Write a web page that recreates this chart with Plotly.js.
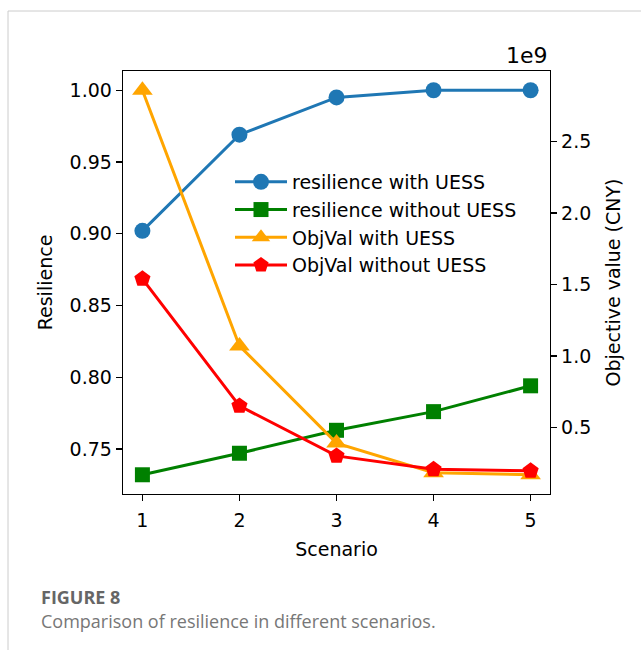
<!DOCTYPE html>
<html>
<head>
<meta charset="utf-8">
<script src="https://cdn.plot.ly/plotly-3.0.1.min.js"></script>
<style>
  html, body { margin: 0; padding: 0; background: #ffffff; }
  #chart { width: 641px; height: 650px; }
</style>
</head>
<body>
<div id="chart"></div>
<script>
// Scenario index on the x axis
const scenarios = [1, 2, 3, 4, 5];

// Resilience (left axis)
const resilienceWithUESS = [0.902, 0.969, 0.995, 1.000, 1.000];
const resilienceWithoutUESS = [0.732, 0.747, 0.763, 0.776, 0.794];

// Objective value in CNY (right axis, shown in units of 1e9)
const objValWithUESS = [2.86e9, 1.07e9, 0.39e9, 0.182e9, 0.168e9];
const objValWithoutUESS = [1.54e9, 0.65e9, 0.30e9, 0.206e9, 0.196e9];

const seriesNames = [
  'resilience with UESS',
  'resilience without UESS',
  'ObjVal with UESS',
  'ObjVal without UESS'
];

const objScale = 1e9;
const objWithScaled = objValWithUESS.map(v => v / objScale);
const objWithoutScaled = objValWithoutUESS.map(v => v / objScale);

// Autoscale with a 5% margin on each side of the data span
function padded(arrays) {
  const all = [].concat(...arrays);
  const lo = Math.min(...all), hi = Math.max(...all);
  const m = (hi - lo) * 0.05;
  return [lo - m, hi + m];
}

// Page geometry
const W = 641, H = 650;
const M = { l: 123, r: 91, t: 71, b: 156 };
const PW = W - M.l - M.r, PH = H - M.t - M.b;
const px2x = px => (px - M.l) / PW;
const px2y = py => (H - M.b - py) / PH;

const font = 'DejaVu Sans, sans-serif';
const fs = 19;
const capFont = 'Open Sans, Noto Sans, sans-serif';

const traces = [
  {
    x: scenarios, y: resilienceWithUESS, name: seriesNames[0],
    type: 'scatter', mode: 'lines+markers', yaxis: 'y', legendgroup: 'a',
    line: { color: '#1f77b4', width: 3 },
    marker: { symbol: 'circle', size: 16, color: '#1f77b4' }
  },
  {
    x: scenarios, y: resilienceWithoutUESS, name: seriesNames[1],
    type: 'scatter', mode: 'lines+markers', yaxis: 'y', legendgroup: 'b',
    line: { color: '#008000', width: 3 },
    marker: { symbol: 'square', size: 15, color: '#008000' }
  },
  {
    x: scenarios, y: objWithScaled, name: seriesNames[2],
    type: 'scatter', mode: 'lines+markers', yaxis: 'y2', legendgroup: 'c',
    line: { color: '#ffa500', width: 3 },
    marker: { symbol: 'triangle-up', size: 18, color: '#ffa500' }
  },
  {
    x: scenarios, y: objWithoutScaled, name: seriesNames[3],
    type: 'scatter', mode: 'lines+markers', yaxis: 'y2', legendgroup: 'd',
    line: { color: '#ff0000', width: 3 },
    marker: { symbol: 'pentagon', size: 17, color: '#ff0000' }
  }
];

const axisCommon = {
  showline: true, linecolor: '#000000', linewidth: 1.3,
  ticks: 'outside', ticklen: 6, tickwidth: 1.3, tickcolor: '#000000',
  showgrid: false, zeroline: false,
  tickfont: { family: font, size: fs, color: '#000000' }
};

const layout = {
  width: W, height: H,
  margin: M,
  paper_bgcolor: '#ffffff', plot_bgcolor: '#ffffff',
  showlegend: true,
  legend: {
    x: px2x(230), y: px2y(163), xanchor: 'left', yanchor: 'top',
    bgcolor: 'rgba(0,0,0,0)', borderwidth: 0,
    font: { family: font, size: fs, color: '#000000' },
    tracegroupgap: 0, itemwidth: 52
  },
  xaxis: Object.assign({}, axisCommon, {
    range: [0.8, 5.2], tickvals: scenarios, mirror: true, ticklabelstandoff: 3,
    title: { text: 'Scenario', font: { family: font, size: fs, color: '#000000' }, standoff: 12 }
  }),
  yaxis: Object.assign({}, axisCommon, {
    range: padded([resilienceWithUESS, resilienceWithoutUESS]),
    dtick: 0.05, tick0: 0, tickformat: '.2f',
    title: { text: 'Resilience', font: { family: font, size: fs, color: '#000000' }, standoff: 12 }
  }),
  yaxis2: Object.assign({}, axisCommon, {
    overlaying: 'y', side: 'right', anchor: 'x',
    range: padded([objWithScaled, objWithoutScaled]),
    dtick: 0.5, tick0: 0, tickformat: '.1f',
    title: { text: 'Objective value (CNY)', font: { family: font, size: fs, color: '#000000' }, standoff: 16 }
  }),
  annotations: [
    {
      text: '1e9', xref: 'paper', yref: 'paper', x: 1, y: 1,
      xanchor: 'right', yanchor: 'bottom', yshift: 1, showarrow: false,
      font: { family: font, size: 22, color: '#000000' }
    },
    {
      text: '<b>FIGURE 8</b>', xref: 'paper', yref: 'paper', borderpad: 0,
      x: px2x(40), y: px2y(597), xanchor: 'left', yanchor: 'middle', showarrow: false,
      font: { family: capFont, size: 18, color: '#666666' }
    },
    {
      text: 'Comparison of resilience in different scenarios.', xref: 'paper', yref: 'paper', borderpad: 0,
      x: px2x(40), y: px2y(621), xanchor: 'left', yanchor: 'middle', showarrow: false,
      font: { family: capFont, size: 18, color: '#777777' }
    }
  ],
  shapes: [
    {
      type: 'line', xref: 'paper', yref: 'paper',
      x0: px2x(8), x1: px2x(W), y0: px2y(11), y1: px2y(11),
      line: { color: '#cccccc', width: 1 }
    },
    {
      type: 'line', xref: 'paper', yref: 'paper',
      x0: px2x(8), x1: px2x(8), y0: px2y(11), y1: px2y(H),
      line: { color: '#cccccc', width: 1 }
    }
  ]
};

Plotly.newPlot('chart', traces, layout, { displayModeBar: false, staticPlot: true });
</script>
</body>
</html>
